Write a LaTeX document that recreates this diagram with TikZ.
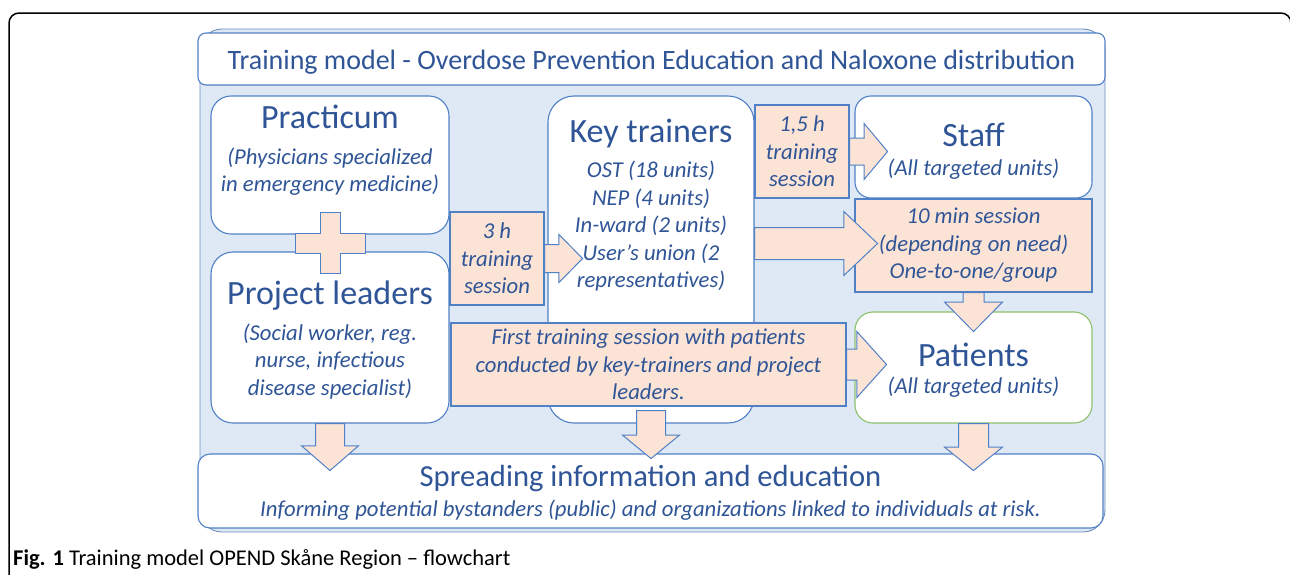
\documentclass[tikz,border=0pt]{standalone}
\usepackage{fontspec}
\setmainfont{Carlito}
\usetikzlibrary{arrows, calc, positioning, shapes.arrows}
\definecolor{txtblue}{HTML}{2F5597}
\definecolor{boxline}{HTML}{5080C6}
\definecolor{bgline}{HTML}{6F8FC0}
\definecolor{bgblue}{HTML}{DEE9F5}
\definecolor{peach}{HTML}{FBE3D5}
\definecolor{patgreen}{HTML}{8CC06A}
\newcommand{\titlefnt}{\fontsize{28}{32}\selectfont}
\newcommand{\headfnt}{\fontsize{34}{39}\selectfont}
\newcommand{\spreadfnt}{\fontsize{30.6}{35}\selectfont}
\newcommand{\itfnt}{\fontsize{22.7}{27.5}\selectfont\itshape}
\tikzset{box/.style = {draw=boxline, fill=white, line width=1.1pt, inner sep=0pt}}
\tikzset{callout/.style = {draw=boxline, fill=peach, line width=1.1pt, align=center,
    text=txtblue, font=\itfnt, inner sep=0pt}}
\tikzset{head/.style = {text=txtblue, font=\headfnt, inner sep=0pt}}
\tikzset{sub/.style = {text=txtblue, font=\itfnt, align=center, inner sep=0pt}}
% #1 = half shaft width, #2 = head extend
\tikzset{blockarrow/.style 2 args = {single arrow, draw=boxline, fill=peach, line width=1pt,
    inner xsep=0pt, inner ysep=#1, single arrow head extend=#2, outer sep=0pt, anchor=tail}}

\begin{document}
\begin{tikzpicture}[x=1pt, y=-1pt]
  \useasboundingbox (0,0) rectangle (1290,574);
  \draw[line width=1.5pt, rounded corners=10pt] (9,600) -- (9,13) -- (1291,13) -- (1291,600);
  \draw[bgline, fill=bgblue, line width=0.9pt, rounded corners=22pt] (200,29) rectangle (1105,532);

  % boxes
  \node[box, rounded corners=8pt, minimum width=907, minimum height=52] (title) at (651.5,59) {};
  \node[text=txtblue, font=\titlefnt, inner sep=0pt] at ([yshift=-3pt]title.center)
    {Training model - Overdose Prevention Education and Naloxone distribution};
  \path (330,165) node[box, rounded corners=20pt, minimum width=238, minimum height=138] (prac) {}
       ++(0,172.5) node[box, rounded corners=22pt, minimum width=238, minimum height=171] (pl) {}
       ++(321,-78) node[box, rounded corners=26pt, minimum width=206, minimum height=327] (kt) {}
       ++(322.5,-112.5) node[box, rounded corners=16pt, minimum width=237, minimum height=102] (staff) {}
       ++(0,220.5) node[box, draw=patgreen, rounded corners=18pt, minimum width=237, minimum height=111] (pat) {};
  \node[box, rounded corners=12pt, minimum width=905, minimum height=74] (spread) at (650.5,491) {};

  % texts
  \path (prac.north) ++(0,21) node[head] {Practicum}
       ++(0,55) node[sub] {(Physicians specialized\\in emergency medicine)};
  \path (pl.north) ++(0,44) node[head] {Project leaders}
       ++(0,66) node[sub] {(Social worker, reg.\\nurse, infectious\\disease specialist)};
  \path (kt.north) ++(0,38) node[head] {Key trainers}
       ++(0,93) node[sub] {OST (18 units)\\NEP (4 units)\\In-ward (2 units)\\User’s union (2\\representatives)};
  \path (staff.north) ++(0,39) node[head] {Staff}
       ++(0,35) node[sub] {(All targeted units)};
  \path (pat.north) ++(0,43) node[head] {Patients}
       ++(0,33) node[sub] {(All targeted units)};
  \path (spread.north) ++(0,25) node[head, font=\spreadfnt] {Spreading information and education}
       ++(0,32) node[sub] {Informing potential bystanders (public) and organizations linked to individuals at risk.};

  % plus sign
  \draw[draw=boxline, fill=peach, line width=1pt] ($(prac.south)!0.5!(pl.north)$) ++(-10,-31)
    -- ++(20,0) -- ++(0,21) -- ++(25,0) -- ++(0,20) -- ++(-25,0) -- ++(0,20)
    -- ++(-20,0) -- ++(0,-20) -- ++(-25,0) -- ++(0,-20) -- ++(25,0) -- cycle;

  % callouts
  \node[callout, minimum width=94, minimum height=93] (three) at (497,258.5) {3 h\\training\\session};
  \node[callout, minimum width=94, minimum height=93] (onefive) at (802,151.5) {1,5 h\\training\\session};
  \node[callout, minimum width=237, minimum height=93] (tenmin) at (973.5,245.5)
    {10 min session\\(depending on need)\\One-to-one/group};
  \node[callout, minimum width=395, minimum height=83] (first) at (648.5,364.5)
    {First training session with patients\\conducted by key-trainers and project\\leaders.};

  % block arrows
  \node[blockarrow={13.5pt}{10pt}, minimum height=38, single arrow tip angle=91] (threeA) at (three.east) {};
  \node[blockarrow={13pt}{14.5pt}, minimum height=38, single arrow tip angle=100] (onefiveA) at (onefive.east) {};
  \node[blockarrow={15pt}{17.5pt}, minimum height=40, single arrow tip angle=96] (firstA) at (first.east) {};
  \node[blockarrow={15.5pt}{16pt}, minimum height=123, single arrow tip angle=87] (tenA)
    at ([yshift=2pt]kt.east |- tenmin.west) {};
  \node[blockarrow={14pt}{14pt}, rotate=-90, minimum height=47, single arrow tip angle=98] (plA) at (pl.south) {};
  \node[blockarrow={14pt}{14pt}, rotate=-90, minimum height=48, single arrow tip angle=101] (ktA)
    at ($(first.south -| kt.south)+(0,4)$) {};
  \node[blockarrow={10pt}{18.5pt}, rotate=-90, minimum height=39, single arrow tip angle=89] (tenD) at (tenmin.south) {};
  \node[blockarrow={14.5pt}{14pt}, rotate=-90, minimum height=47, single arrow tip angle=102] (patA) at (pat.south) {};

  % caption
  \node[anchor=west, inner sep=0pt, font=\fontsize{22.5}{26}\selectfont] (cap) at (13,559)
    {\textbf{Fig. 1} Training model OPEND Skåne Region – flowchart};
\end{tikzpicture}
\end{document}
